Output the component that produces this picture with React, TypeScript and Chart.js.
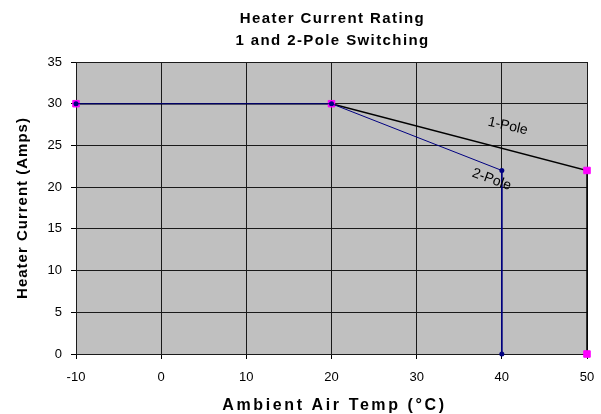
import React, { useEffect, useRef } from "react";
import { Chart, registerables } from "chart.js";

Chart.register(...registerables);

const titleLines = ["Heater Current Rating", "1 and 2-Pole Switching"];
const xAxisTitle = "Ambient Air Temp (°C)";
const yAxisTitle = "Heater Current (Amps)";

const seriesNames = ["1-Pole", "2-Pole"];
const onePoleX = [-10, 20, 50, 50];
const onePoleY = [30, 30, 22, 0];
const twoPoleX = [-10, 20, 40, 40];
const twoPoleY = [30, 30, 22, 0];

const xMin = -10;
const xMax = 50;
const xStep = 10;
const yMin = 0;
const yMax = 35;
const yStep = 5;

const FONT = "'Liberation Sans', Arial, sans-serif";

const toPoints = (xs: number[], ys: number[]) => xs.map((x, i) => ({ x, y: ys[i] }));

const decorPlugin = {
  id: "decor",
  beforeDraw(chart: any) {
    const { ctx, chartArea } = chart;
    ctx.save();
    ctx.fillStyle = "#C0C0C0";
    ctx.fillRect(chartArea.left, chartArea.top, chartArea.right - chartArea.left, chartArea.bottom - chartArea.top);
    ctx.restore();
  },
  afterDraw(chart: any) {
    const { ctx, chartArea, scales } = chart;
    const cx = (chartArea.left + chartArea.right) / 2;
    const cy = (chartArea.top + chartArea.bottom) / 2;
    ctx.save();
    ctx.fillStyle = "#000";
    ctx.textAlign = "center";
    ctx.textBaseline = "alphabetic";
    // Chart title
    ctx.font = `bold 15px ${FONT}`;
    (ctx as any).letterSpacing = "1.4px";
    ctx.fillText(titleLines[0], cx + 1, 23);
    ctx.fillText(titleLines[1], cx + 1, 45);
    // X axis title
    ctx.font = `bold 16px ${FONT}`;
    (ctx as any).letterSpacing = "2.6px";
    ctx.fillText(xAxisTitle, cx + 3, 410);
    // Y axis title
    ctx.font = `bold 15px ${FONT}`;
    (ctx as any).letterSpacing = "1px";
    ctx.translate(27, cy);
    ctx.rotate(-Math.PI / 2);
    ctx.fillText(yAxisTitle, 0, 0);
    ctx.restore();

    // Series labels
    const labels = [
      { text: seriesNames[0], x: 40.7, y: 27.3, angle: 13 },
      { text: seriesNames[1], x: 38.8, y: 20.9, angle: 20 },
    ];
    ctx.save();
    ctx.fillStyle = "#000";
    ctx.font = `14px ${FONT}`;
    ctx.textAlign = "center";
    ctx.textBaseline = "middle";
    labels.forEach((l) => {
      ctx.save();
      ctx.translate(scales.x.getPixelForValue(l.x), scales.y.getPixelForValue(l.y));
      ctx.rotate((l.angle * Math.PI) / 180);
      ctx.fillText(l.text, 0, 0);
      ctx.restore();
    });
    ctx.restore();
  },
};

export default function App() {
  const ref = useRef<HTMLCanvasElement | null>(null);

  useEffect(() => {
    if (!ref.current) return;
    const chart = new Chart(ref.current, {
      type: "line",
      data: {
        datasets: [
          {
            label: seriesNames[1],
            data: toPoints(twoPoleX, twoPoleY),
            borderColor: "#000080",
            backgroundColor: "#000080",
            borderWidth: 1,
            pointStyle: "circle",
            pointRadius: 2.5,
            pointBorderWidth: 0,
            pointBackgroundColor: "#000080",
            tension: 0,
            clip: false,
            order: 0,
          },
          {
            label: seriesNames[0],
            data: toPoints(onePoleX, onePoleY),
            borderColor: "#000000",
            backgroundColor: "#FF00FF",
            borderWidth: 1.5,
            pointStyle: "rect",
            pointRadius: 4.6,
            pointBorderWidth: 1,
            pointBorderColor: "#FF00FF",
            pointBackgroundColor: "#FF00FF",
            tension: 0,
            clip: false,
            order: 1,
          },
        ],
      },
      options: {
        responsive: false,
        animation: false,
        events: [],
        layout: { padding: { left: 0, right: 14, top: 62, bottom: 0 }, autoPadding: false },
        plugins: {
          legend: { display: false },
          tooltip: { enabled: false },
          title: { display: false },
        },
        scales: {
          x: {
            type: "linear",
            min: xMin,
            max: xMax,
            ticks: { stepSize: xStep, color: "#000", font: { family: FONT, size: 13 }, padding: 11, maxRotation: 0 },
            grid: { color: "#1a1a1a", lineWidth: 1, tickLength: 5, tickColor: "#000", drawTicks: true },
            border: { display: true, color: "#1a1a1a", width: 1 },
            afterFit: (s: any) => {
              s.height = 60;
              s.paddingLeft = 0;
              s.paddingRight = 0;
            },
          },
          y: {
            type: "linear",
            min: yMin,
            max: yMax,
            ticks: { stepSize: yStep, color: "#000", font: { family: FONT, size: 13 }, padding: 9 },
            grid: { color: "#1a1a1a", lineWidth: 1, tickLength: 5, tickColor: "#000", drawTicks: true },
            border: { display: true, color: "#1a1a1a", width: 1 },
            afterFit: (s: any) => {
              s.width = 76;
              s.paddingTop = 0;
              s.paddingBottom = 0;
            },
          },
        },
      },
      plugins: [decorPlugin],
    } as any);
    return () => chart.destroy();
  }, []);

  return (
    <div style={{ position: "absolute", left: 0, top: 0, width: 601, height: 414, background: "#fff" }}>
      <canvas ref={ref} width={601} height={414} style={{ display: "block" }} />
    </div>
  );
}
